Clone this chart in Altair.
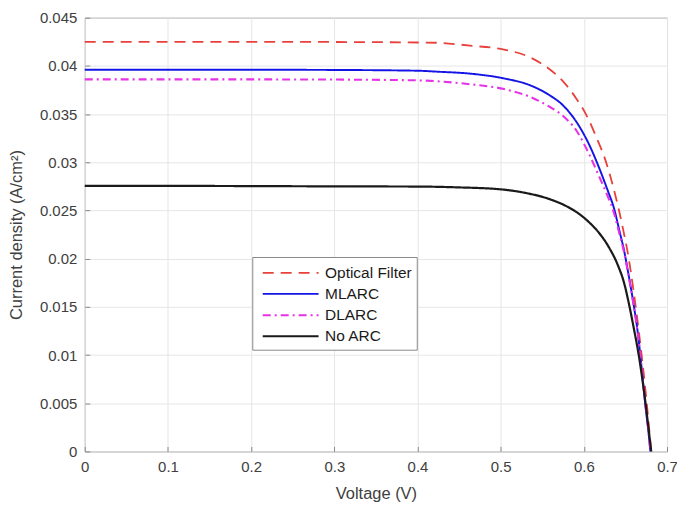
import altair as alt
import pandas as pd

series_names = ["Optical Filter", "MLARC", "DLARC", "No ARC"]
series_colors = ["#E8413C", "#1414E6", "#E632E6", "#1A1A1A"]

of_v = [0, 0.1, 0.2, 0.3, 0.4, 0.424, 0.463, 0.504, 0.535, 0.558, 0.575, 0.591, 0.603,
        0.615, 0.626, 0.636, 0.642, 0.648, 0.653, 0.660, 0.667, 0.674, 0.681]
of_j = [0.0425, 0.0425, 0.0425, 0.04248, 0.04243, 0.0424, 0.0421, 0.0417, 0.0409, 0.0397,
        0.0384, 0.0366, 0.0349, 0.0326, 0.0302, 0.0272, 0.0251, 0.0227, 0.0205, 0.0165,
        0.0118, 0.0064, 0.0]

ml_v = [0, 0.1, 0.2, 0.3, 0.4, 0.424, 0.463, 0.504, 0.535, 0.558, 0.575, 0.591, 0.606,
        0.618, 0.629, 0.636, 0.643, 0.648, 0.653, 0.659, 0.665, 0.670, 0.674, 0.678, 0.680]
ml_j = [0.0396, 0.0396, 0.0396, 0.03958, 0.0395, 0.0394, 0.0392, 0.0387, 0.0380, 0.0370,
        0.0359, 0.0342, 0.0319, 0.0295, 0.0270, 0.0253, 0.0228, 0.0210, 0.0187, 0.0157,
        0.0122, 0.0082, 0.0048, 0.0018, 0.0]

dl_v = [0, 0.1, 0.2, 0.3, 0.4, 0.424, 0.463, 0.504, 0.535, 0.558, 0.575, 0.591, 0.606,
        0.618, 0.629, 0.636, 0.643, 0.648, 0.653, 0.659, 0.665, 0.670, 0.674, 0.678, 0.680]
dl_j = [0.0386, 0.0386, 0.0386, 0.03858, 0.0385, 0.0384, 0.0381, 0.0376, 0.0368, 0.0358,
        0.0348, 0.0333, 0.0309, 0.0286, 0.0264, 0.0248, 0.0225, 0.0208, 0.0186, 0.0156,
        0.0121, 0.0082, 0.0048, 0.0018, 0.0]

na_v = [0, 0.1, 0.2, 0.3, 0.4, 0.447, 0.499, 0.531, 0.558, 0.580, 0.595, 0.606, 0.618,
        0.630, 0.641, 0.648, 0.654, 0.660, 0.665, 0.669, 0.674, 0.678, 0.681]
na_j = [0.02755, 0.02755, 0.02753, 0.0275, 0.02748, 0.0274, 0.0272, 0.0268, 0.0262, 0.0254,
        0.0246, 0.0238, 0.0227, 0.0212, 0.0193, 0.0176, 0.0154, 0.0128, 0.0105, 0.0083,
        0.0051, 0.0022, 0.0]

series_widths = [1.8, 2.2, 2.0, 1.6]

x_ticks = [0, 0.1, 0.2, 0.3, 0.4, 0.5, 0.6, 0.7]
y_ticks = [0, 0.005, 0.01, 0.015, 0.02, 0.025, 0.03, 0.035, 0.04, 0.045]

rows = []
for name, vs, js in [("Optical Filter", of_v, of_j), ("MLARC", ml_v, ml_j),
                     ("DLARC", dl_v, dl_j), ("No ARC", na_v, na_j)]:
    for i, (v, j) in enumerate(zip(vs, js)):
        rows.append({"series": name, "V": v, "J": j, "order": i})
df = pd.DataFrame(rows)

FONT = "Liberation Sans"
legend = alt.Legend(title=None, orient="none", legendX=168, legendY=240)

chart = alt.Chart(df).mark_line(interpolate="monotone").encode(
    x=alt.X("V:Q", scale=alt.Scale(domain=[0, 0.7], nice=False),
            axis=alt.Axis(values=x_ticks, format="~g", title="Voltage (V)",
                          offset=-5, tickSize=5, labelPadding=8, titlePadding=11,
                          labelFlush=False)),
    y=alt.Y("J:Q", scale=alt.Scale(domain=[0, 0.045], nice=False),
            axis=alt.Axis(values=y_ticks, format="~g", title="Current density (A/cm²)",
                          offset=-5, tickSize=5, labelPadding=8, titlePadding=15,
                          labelFlush=False)),
    color=alt.Color("series:N", scale=alt.Scale(domain=series_names, range=series_colors),
                    legend=legend),
    strokeDash=alt.StrokeDash("series:N", scale=alt.Scale(
        domain=series_names, range=[[11, 7], [1, 0], [8, 4, 2, 4], [1, 0]]),
        legend=legend),
    strokeWidth=alt.StrokeWidth("series:N", scale=alt.Scale(
        domain=series_names, range=series_widths), legend=None),
    order="order:Q",
).properties(
    width=584, height=435,
    autosize=alt.AutoSizeParams(type="none"),
    padding={"left": 77, "top": 9, "right": 10, "bottom": 50},
).configure_view(
    stroke="#8a8a8a", strokeWidth=1
).configure_axis(
    domain=False, grid=True, gridColor="#e6e6e6", gridWidth=1,
    tickColor="#8a8a8a", labelColor="#404040", labelFont=FONT, labelFontSize=15,
    titleFont=FONT, titleFontSize=16.5, titleFontWeight="normal", titleColor="#404040",
).configure_legend(
    labelFont=FONT, labelFontSize=15.5, labelColor="#1a1a1a",
    symbolType="M-0.6,0H5", symbolSize=400, symbolStrokeWidth=1.6,
    fillColor="white", strokeColor="#8a8a8a", padding=5, rowPadding=1,
    labelOffset=45,
)

chart.save("out.html", embed_options={"renderer": "svg", "actions": False})
